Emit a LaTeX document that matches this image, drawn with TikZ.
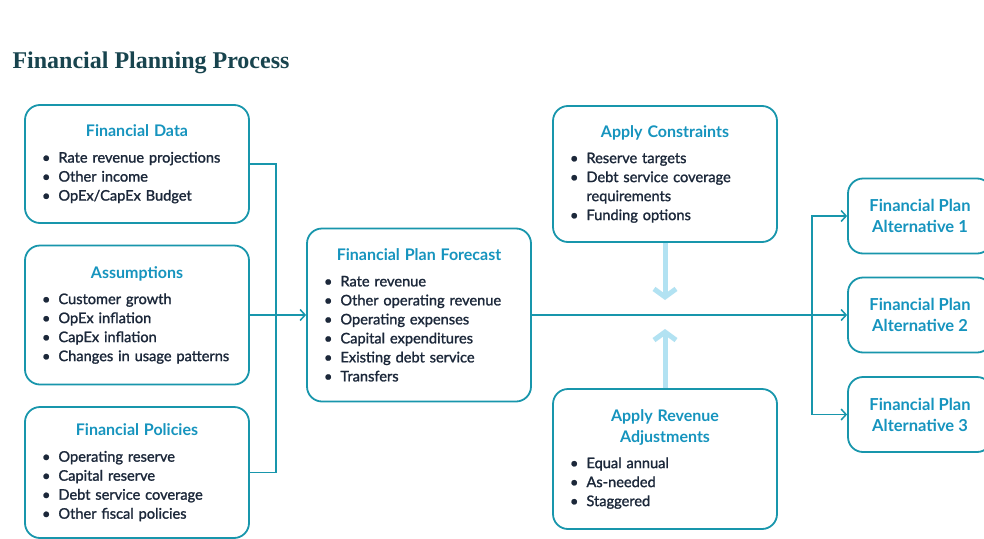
\documentclass[tikz,border=0pt]{standalone}
\usepackage{fontspec}
\setmainfont{Lato}
\newfontfamily\bodyfont{Lato}[FakeBold=1.4]
\newfontfamily\headserif{Liberation Serif}
\usetikzlibrary{arrows.meta,positioning}

\definecolor{boxteal}{RGB}{24,150,172}
\definecolor{headblue}{RGB}{22,148,190}
\definecolor{bodynavy}{RGB}{28,40,58}
\definecolor{pagetitle}{RGB}{24,68,78}
\definecolor{paleblue}{RGB}{178,226,242}

\newcommand{\boxhead}[1]{\makebox[\hsize]{\color{headblue}\fontsize{16}{19}\selectfont\rmfamily\bfseries #1}}
\newcommand{\itm}{\textbullet\hspace{8pt}}
\newcommand{\itmcont}{\phantom{\textbullet}\hspace{8pt}}

\begin{document}
\begin{tikzpicture}[x = 1pt, y = -1pt,
  every node/.style={font=\bodyfont\fontsize{14.6}{19}\selectfont},
  stepbox/.style={draw=boxteal,line width=1.8pt,rounded corners=15pt,text=bodynavy,align=left,inner xsep=17pt,text width=190pt},
  altbox/.style={draw=boxteal,line width=1.8pt,rounded corners=15pt,text=headblue,align=center,font=\fontsize{16.5}{21}\selectfont\bfseries,minimum width=144pt,minimum height=75pt},
  flow/.style={draw=boxteal,line width=1.5pt},
  flowarrow/.style={flow,-{Straight Barb[length=5pt,width=11pt]}},
  adjust/.style={draw=paleblue,line width=5pt,-{Straight Barb[length=8pt,width=22pt]}}]
\useasboundingbox[fill=white] (0,0) rectangle (984,538);
\node[anchor=base west,text=pagetitle,font=\headserif\bfseries\fontsize{24}{28}\selectfont] (title) at (9,68) {Financial Planning Process};
% inputs
\node[stepbox,minimum width=224pt,minimum height=118pt] (data) at (137,164) {\boxhead{Financial Data}\\[7pt]
  \itm Rate revenue projections\\ \itm Other income\\ \itm OpEx/CapEx Budget};
\node[stepbox,minimum width=224pt,minimum height=139pt] (assump) at (137,315) {\boxhead{Assumptions}\\[7pt]
  \itm Customer growth\\ \itm OpEx inflation\\ \itm CapEx inflation\\ \itm Changes in usage patterns};
\node[stepbox,minimum width=224pt,minimum height=131pt] (policies) at (137,472.5) {\boxhead{Financial Policies}\\[7pt]
  \itm Operating reserve\\ \itm Capital reserve\\ \itm Debt service coverage\\ \itm Other fiscal policies};
% forecast
\node[stepbox,minimum width=224pt,minimum height=173pt] (forecast) at (419,315) {\boxhead{Financial Plan Forecast}\\[7pt]
  \itm Rate revenue\\ \itm Other operating revenue\\ \itm Operating expenses\\ \itm Capital expenditures\\ \itm Existing debt service\\ \itm Transfers};
% adjustments
\node[stepbox,minimum width=222pt,minimum height=136pt] (constr) at (665,174) {\boxhead{Apply Constraints}\\[7pt]
  \itm Reserve targets\\ \itm Debt service coverage\\ \itmcont requirements\\ \itm Funding options};
\node[stepbox,minimum width=222pt,minimum height=140pt] (revadj) at (665,459) {\boxhead{Apply Revenue}\\[2pt]\boxhead{Adjustments}\\[7pt]
  \itm Equal annual\\ \itm As-needed\\ \itm Staggered};
% alternatives
\node[altbox] (alt1) at (920,216) {Financial Plan\\Alternative 1};
\node[altbox] (alt2) at (920,315) {Financial Plan\\Alternative 2};
\node[altbox] (alt3) at (920,414.5) {Financial Plan\\Alternative 3};
\coordinate (join) at (276,315);
\coordinate (fork) at (812,315);
\coordinate (cin) at (665,300);
\coordinate (rin) at (665,329);
\draw[flow] (data.east) -| (join);
\draw[flow] (policies.east) -| (join);
\draw[flowarrow] (assump.east) -- (forecast.west);
\draw[flowarrow] (forecast.east) -- (alt2.west);
\draw[flowarrow] (fork) |- (alt1.west);
\draw[flowarrow] (fork) |- (alt3.west);
\draw[adjust] (constr.south) -- (cin);
\draw[adjust] (revadj.north) -- (rin);
\end{tikzpicture}
\end{document}
